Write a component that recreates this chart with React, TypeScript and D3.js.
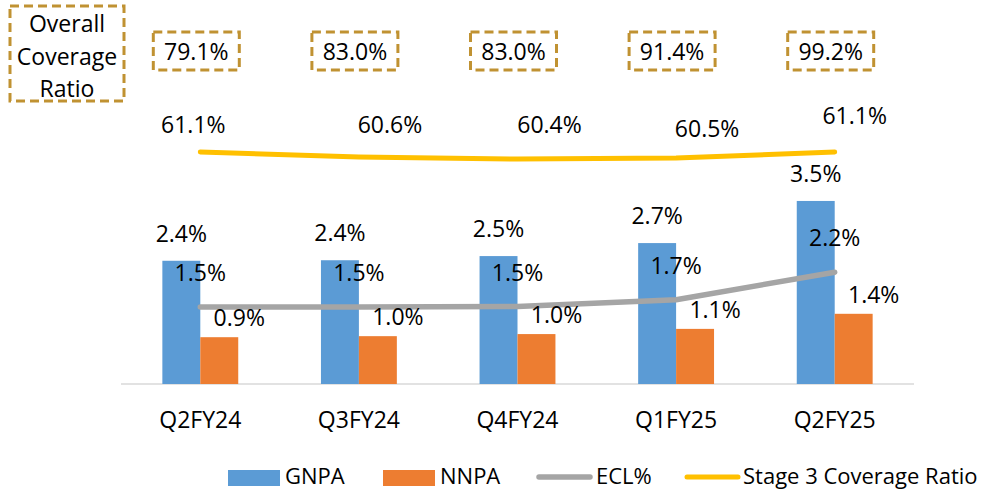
import * as d3 from "d3";

const categories = ["Q2FY24", "Q3FY24", "Q4FY24", "Q1FY25", "Q2FY25"];
const gnpa = [2.37, 2.38, 2.46, 2.71, 3.52];
const nnpa = [0.9, 0.92, 0.96, 1.06, 1.35];
const ecl = [1.48, 1.48, 1.49, 1.62, 2.15];
const stage3 = [61.1, 60.6, 60.4, 60.5, 61.1];
const gnpaLabels = ["2.4%", "2.4%", "2.5%", "2.7%", "3.5%"];
const nnpaLabels = ["0.9%", "1.0%", "1.0%", "1.1%", "1.4%"];
const eclLabels = ["1.5%", "1.5%", "1.5%", "1.7%", "2.2%"];
const overallCoverage = ["79.1%", "83.0%", "83.0%", "91.4%", "99.2%"];

// hand nudges for the stage 3 labels, as placed in the original
const s3Nudge = [
  [-7, -19],
  [31, -24],
  [32, -26],
  [31, -21],
  [20, -28],
];

const W = 996;
const H = 491;
const FONT = "'Open Sans', sans-serif";
const FS = 23;
const GOLD = "#C09232";

const App = () => {
  const x = d3.scaleBand<string>().domain(categories).range([121, 914]).padding(0);
  const bw = x.bandwidth();
  const xs = d3
    .scaleBand<string>()
    .domain(["GNPA", "NNPA"])
    .range([0, bw])
    .paddingInner(0)
    .paddingOuter(1.09);
  const y = d3.scaleLinear().domain([0, 4]).range([384, 176]);
  const y2 = d3.scaleLinear().domain([55, 65]).range([213, 113]);
  const cx = (c: string) => (x(c) ?? 0) + bw / 2;

  const eclLine = d3
    .line<number>()
    .x((_, i) => cx(categories[i]))
    .y((d) => y(d));
  const s3Line = d3
    .line<number>()
    .x((_, i) => cx(categories[i]))
    .y((d) => y2(d));

  const sw = xs.bandwidth();

  return (
    <svg
      width={W}
      height={H}
      style={{ position: "absolute", left: 0, top: 0, background: "#fff" }}
      fontFamily={FONT}
      fontSize={FS}
    >
      {/* overall coverage boxes */}
      <rect x={10} y={6} width={114} height={95} fill="none" stroke={GOLD} strokeWidth={3} strokeDasharray="9 5" />
      <text x={67} y={32} textAnchor="middle">Overall</text>
      <text x={67} y={65} textAnchor="middle">Coverage</text>
      <text x={67} y={97} textAnchor="middle">Ratio</text>
      {categories.map((c, i) => (
        <g key={"oc" + c}>
          <rect
            x={cx(c) - 4 - 43}
            y={32}
            width={86}
            height={38}
            fill="none"
            stroke={GOLD}
            strokeWidth={3}
            strokeDasharray="9 5"
          />
          <text x={cx(c) - 4} y={60} textAnchor="middle">{overallCoverage[i]}</text>
        </g>
      ))}

      {/* axis */}
      <line x1={121} x2={914} y1={y(0)} y2={y(0)} stroke="#D9D9D9" strokeWidth={1.5} />
      {categories.map((c) => (
        <text key={"cat" + c} x={cx(c)} y={428} textAnchor="middle">{c}</text>
      ))}

      {/* bars */}
      {categories.map((c, i) => {
        const gx = (x(c) ?? 0) + (xs("GNPA") ?? 0);
        const nx = (x(c) ?? 0) + (xs("NNPA") ?? 0);
        return (
          <g key={"bar" + c}>
            <rect x={gx} y={y(gnpa[i])} width={sw} height={y(0) - y(gnpa[i])} fill="#5B9BD5" />
            <rect x={nx} y={y(nnpa[i])} width={sw} height={y(0) - y(nnpa[i])} fill="#ED7D31" />
          </g>
        );
      })}

      {/* lines */}
      <path d={eclLine(ecl) ?? ""} fill="none" stroke="#A5A5A5" strokeWidth={5.5} strokeLinecap="round" strokeLinejoin="round" />
      <path d={s3Line(stage3) ?? ""} fill="none" stroke="#FFC000" strokeWidth={5} strokeLinecap="round" strokeLinejoin="round" />

      {/* data labels */}
      {categories.map((c, i) => {
        const gx = (x(c) ?? 0) + (xs("GNPA") ?? 0) + sw / 2;
        const nx = (x(c) ?? 0) + (xs("NNPA") ?? 0) + sw / 2;
        return (
          <g key={"lbl" + c}>
            <text x={gx} y={y(gnpa[i]) - 19} textAnchor="middle">{gnpaLabels[i]}</text>
            <text x={nx + 20} y={y(nnpa[i]) - 11} textAnchor="middle">{nnpaLabels[i]}</text>
            <text x={cx(c)} y={y(ecl[i]) - 26} textAnchor="middle">{eclLabels[i]}</text>
            <text x={cx(c) + s3Nudge[i][0]} y={y2(stage3[i]) + s3Nudge[i][1]} textAnchor="middle">
              {stage3[i].toFixed(1) + "%"}
            </text>
          </g>
        );
      })}

      {/* legend */}
      <g fontSize={22}>
        <rect x={228} y={470} width={52} height={16} fill="#5B9BD5" />
        <text x={285} y={484}>GNPA</text>
        <rect x={383} y={470} width={52} height={16} fill="#ED7D31" />
        <text x={440} y={484}>NNPA</text>
        <line x1={539} x2={590} y1={477} y2={477} stroke="#A5A5A5" strokeWidth={5.5} strokeLinecap="round" />
        <text x={596} y={484}>ECL%</text>
        <line x1={687} x2={738} y1={477} y2={477} stroke="#FFC000" strokeWidth={5} strokeLinecap="round" />
        <text x={743} y={484}>Stage 3 Coverage Ratio</text>
      </g>
    </svg>
  );
};

export default App;
